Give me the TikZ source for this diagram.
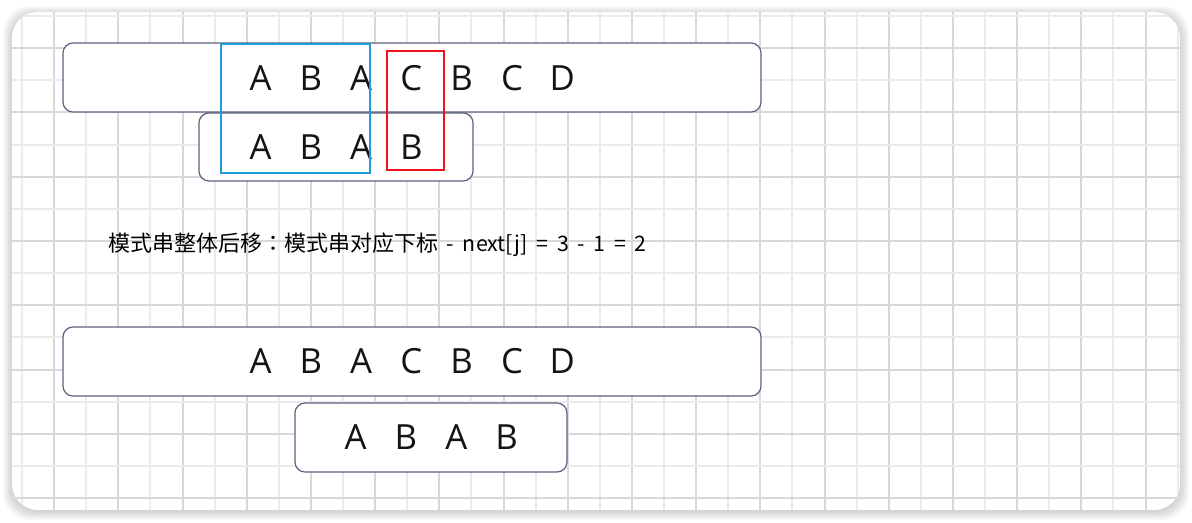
\documentclass[tikz,border=0pt]{standalone}
\usepackage{fontspec}
\setmainfont{Open Sans}
\newfontfamily\cjk{Noto Sans CJK SC}
\newfontfamily\cjktc{Noto Sans CJK TC}
\usetikzlibrary{positioning}
\definecolor{boxline}{RGB}{92,98,126}
\definecolor{gridbold}{RGB}{216,216,216}
\definecolor{gridthin}{RGB}{235,235,235}
\definecolor{markblue}{RGB}{30,158,214}
\definecolor{markred}{RGB}{240,16,28}

\begin{document}
\begin{tikzpicture}[x=0.75pt,y=-0.75pt]

\tikzstyle{strbox} = [draw=boxline, line width=0.9pt, rounded corners=7.5pt, fill=white, inner sep=0pt, minimum height=51.75pt]
\tikzstyle{markbox} = [draw, line width=1.5pt, inner sep=0pt]
\tikzstyle{letter} = [font=\fontsize{26}{26}\selectfont, inner sep=0pt, text=black!92]

\useasboundingbox (0,0) rectangle (1192,522);

% card with soft shadow
\foreach \s in {1,...,9}
  \fill[black, opacity=0.018, rounded corners=19.5pt] (12-\s,12-\s+3) rectangle (1180+\s,510+\s+1);
\begin{scope}
  \clip[rounded corners=19.5pt] (12,12) rectangle (1180,510);
  \fill[white] (12,12) rectangle (1180,510);
  \foreach \k in {0,...,36}{
    \ifodd\k \def\gc{gridbold}\else \def\gc{gridthin}\fi
    \pgfmathsetmacro\gx{22+round(32.1*\k)}
    \draw[\gc, line width=1.5pt] (\gx,12) -- (\gx,510);
  }
  \foreach \k in {0,...,15}{
    \ifodd\k \def\gc{gridbold}\else \def\gc{gridthin}\fi
    \pgfmathsetmacro\gy{16+round(32.15*\k)}
    \draw[\gc, line width=1.5pt] (12,\gy) -- (1180,\gy);
  }
\end{scope}

% first attempt: mismatch at C / B
\node[strbox, minimum width=523.5pt] (text1) at (412,77.5) {};
\node[strbox, minimum width=205.5pt, minimum height=51pt] (pat1) at (336,147) {};
\foreach \ch [count=\i from 0] in {A,B,A,C,B,C,D}
  \node[letter] (t\i) at (260.5+50.3*\i,78) {\ch};
\foreach \ch [count=\i from 0] in {A,B,A,B}
  \node[letter] (p\i) at (260.5+50.3*\i,147) {\ch};
\node[markbox, markblue, minimum width=111.75pt, minimum height=96.75pt] (prefix) at (295.5,108.5) {};
\node[markbox, markred, minimum width=42.75pt, minimum height=89.25pt] (miss) at (415,110.5) {};

\node[anchor=west, inner sep=0pt, font=\cjk] (rule) at (108,245)
  {\fontsize{16.5}{16.5}\selectfont 模式串整体后移{\cjktc ：}模式串对应下标%
   \fontsize{16}{16}\selectfont\spaceskip=6.5pt\ - next[j] = 3 - 1 = 2};

% after shifting the pattern
\node[strbox, minimum width=523.5pt] (text2) at (412,361.5) {};
\node[strbox, minimum width=204pt] (pat2) at (431,437.5) {};
\foreach \ch [count=\i from 0] in {A,B,A,C,B,C,D}
  \node[letter] (u\i) at (260.5+50.3*\i,361) {\ch};
\foreach \ch [count=\i from 0] in {A,B,A,B}
  \node[letter] (q\i) at (355.5+50.4*\i,437) {\ch};

\end{tikzpicture}
\end{document}
